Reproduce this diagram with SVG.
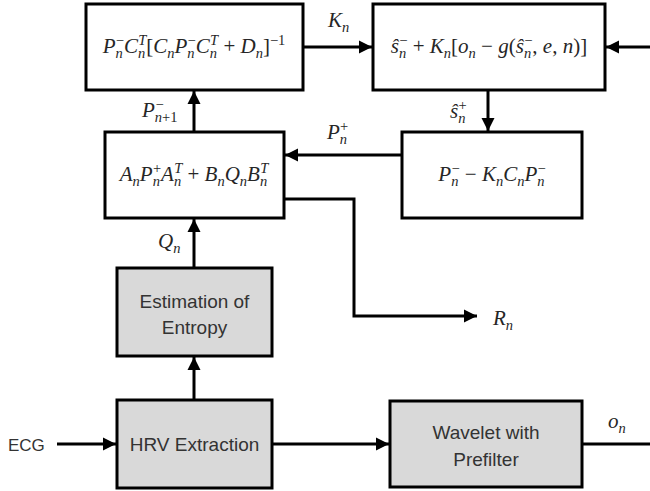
<svg xmlns="http://www.w3.org/2000/svg" width="650" height="491" viewBox="0 0 650 491">
<style>
.box{fill:#ffffff;stroke:#000;stroke-width:3}
.gbox{fill:#d9d9d9;stroke:#000;stroke-width:3}
.ln{fill:none;stroke:#000;stroke-width:3}
.mt{font-family:"Liberation Serif","DejaVu Serif",serif;font-size:21px;fill:#262626}
.it{font-style:italic}
.sb{font-size:14.5px}
.tx{font-family:"Liberation Sans",Arial,sans-serif;font-size:19px;fill:#333}
</style>
<defs>
<marker id="arr" markerUnits="userSpaceOnUse" markerWidth="14" markerHeight="14" refX="13" refY="7" orient="auto">
<path d="M0,0.5 L13,7 L0,13.5 Z" fill="#000"/>
</marker>
</defs>
<rect width="650" height="491" fill="#fff"/>
<g id="connectors">
<path class="ln" d="M303,47 H372" marker-end="url(#arr)"/>
<path class="ln" d="M582,444 H652 V47 H606" marker-end="url(#arr)"/>
<path class="ln" d="M488,90 V131" marker-end="url(#arr)"/>
<path class="ln" d="M402,155 H285" marker-end="url(#arr)"/>
<path class="ln" d="M194,132 V91" marker-end="url(#arr)"/>
<path class="ln" d="M194,268 V219" marker-end="url(#arr)"/>
<path class="ln" d="M284,199 H354 V316 H477" marker-end="url(#arr)"/>
<path class="ln" d="M194,400 V357" marker-end="url(#arr)"/>
<path class="ln" d="M57,444 H116" marker-end="url(#arr)"/>
<path class="ln" d="M272,444 H389" marker-end="url(#arr)"/>
</g>
<g id="gain">
<rect class="box" x="86" y="4" width="217" height="86"/>
<text class="mt" x="194" y="53" text-anchor="middle"><tspan class="it">P</tspan><tspan class="sb it" dy="5">n</tspan><tspan class="sb" dx="-7" dy="-13">−</tspan><tspan class="it" dy="8">C</tspan><tspan class="sb it" dy="5">n</tspan><tspan class="sb it" dx="-7" dy="-13">T</tspan><tspan dy="8">[</tspan><tspan class="it">C</tspan><tspan class="sb it" dy="5">n</tspan><tspan class="it" dy="-5">P</tspan><tspan class="sb it" dy="5">n</tspan><tspan class="sb" dx="-7" dy="-13">−</tspan><tspan class="it" dy="8">C</tspan><tspan class="sb it" dy="5">n</tspan><tspan class="sb it" dx="-7" dy="-13">T</tspan><tspan dy="8"> + </tspan><tspan class="it">D</tspan><tspan class="sb it" dy="5">n</tspan><tspan dy="-5">]</tspan><tspan class="sb" dy="-8">−1</tspan></text>
</g>
<g id="update">
<rect class="box" x="373" y="4" width="232" height="86"/>
<text class="mt" x="489" y="53" text-anchor="middle"><tspan class="it">ŝ</tspan><tspan class="sb it" dy="5">n</tspan><tspan class="sb" dx="-7" dy="-13">−</tspan><tspan dy="8"> + </tspan><tspan class="it">K</tspan><tspan class="sb it" dy="5">n</tspan><tspan dy="-5">[</tspan><tspan class="it">o</tspan><tspan class="sb it" dy="5">n</tspan><tspan dy="-5"> − </tspan><tspan class="it">g</tspan><tspan>(</tspan><tspan class="it">ŝ</tspan><tspan class="sb it" dy="5">n</tspan><tspan class="sb" dx="-7" dy="-13">−</tspan><tspan dy="8">, </tspan><tspan class="it">e</tspan><tspan>, </tspan><tspan class="it">n</tspan><tspan>)]</tspan></text>
</g>
<g id="predict">
<rect class="box" x="105" y="132" width="179" height="86"/>
<text class="mt" x="194" y="181" text-anchor="middle"><tspan class="it">A</tspan><tspan class="sb it" dy="5">n</tspan><tspan class="it" dy="-5">P</tspan><tspan class="sb it" dy="5">n</tspan><tspan class="sb" dx="-7" dy="-13">+</tspan><tspan class="it" dy="8">A</tspan><tspan class="sb it" dy="5">n</tspan><tspan class="sb it" dx="-7" dy="-13">T</tspan><tspan dy="8"> + </tspan><tspan class="it">B</tspan><tspan class="sb it" dy="5">n</tspan><tspan class="it" dy="-5">Q</tspan><tspan class="sb it" dy="5">n</tspan><tspan class="it" dy="-5">B</tspan><tspan class="sb it" dy="5">n</tspan><tspan class="sb it" dx="-7" dy="-13">T</tspan></text>
</g>
<g id="covariance">
<rect class="box" x="402" y="132" width="180" height="86"/>
<text class="mt" x="492" y="181" text-anchor="middle"><tspan class="it">P</tspan><tspan class="sb it" dy="5">n</tspan><tspan class="sb" dx="-7" dy="-13">−</tspan><tspan dy="8"> − </tspan><tspan class="it">K</tspan><tspan class="sb it" dy="5">n</tspan><tspan class="it" dy="-5">C</tspan><tspan class="sb it" dy="5">n</tspan><tspan class="it" dy="-5">P</tspan><tspan class="sb it" dy="5">n</tspan><tspan class="sb" dx="-7" dy="-13">−</tspan></text>
</g>
<g id="entropy">
<rect class="gbox" x="117" y="268" width="155" height="88"/>
<text class="tx" x="194.5" y="308" text-anchor="middle">Estimation of</text>
<text class="tx" x="194.5" y="334" text-anchor="middle">Entropy</text>
</g>
<g id="hrv">
<rect class="gbox" x="117" y="400" width="155" height="88"/>
<text class="tx" x="194.5" y="451" text-anchor="middle">HRV Extraction</text>
</g>
<g id="wavelet">
<rect class="gbox" x="390" y="401" width="192" height="86"/>
<text class="tx" x="486" y="439" text-anchor="middle">Wavelet with</text>
<text class="tx" x="486" y="466" text-anchor="middle">Prefilter</text>
</g>
<g id="labels">
<text class="tx" x="8" y="451" style="font-size:17px">ECG</text>
<text class="mt" x="328" y="27"><tspan class="it">K</tspan><tspan class="sb it" dy="5">n</tspan></text>
<text class="mt" x="142" y="117"><tspan class="it">P</tspan><tspan class="sb" dy="5"><tspan class="it">n</tspan>+1</tspan><tspan class="sb" dx="-22" dy="-13">−</tspan></text>
<text class="mt" x="450" y="118"><tspan class="it">ŝ</tspan><tspan class="sb it" dy="5">n</tspan><tspan class="sb" dx="-7" dy="-13">+</tspan></text>
<text class="mt" x="327" y="139"><tspan class="it">P</tspan><tspan class="sb it" dy="5">n</tspan><tspan class="sb" dx="-7" dy="-13">+</tspan></text>
<text class="mt" x="158" y="248"><tspan class="it">Q</tspan><tspan class="sb it" dy="5">n</tspan></text>
<text class="mt" x="493" y="325"><tspan class="it">R</tspan><tspan class="sb it" dy="5">n</tspan></text>
<text class="mt" x="608" y="428"><tspan class="it">o</tspan><tspan class="sb it" dy="5">n</tspan></text>
</g>
</svg>
